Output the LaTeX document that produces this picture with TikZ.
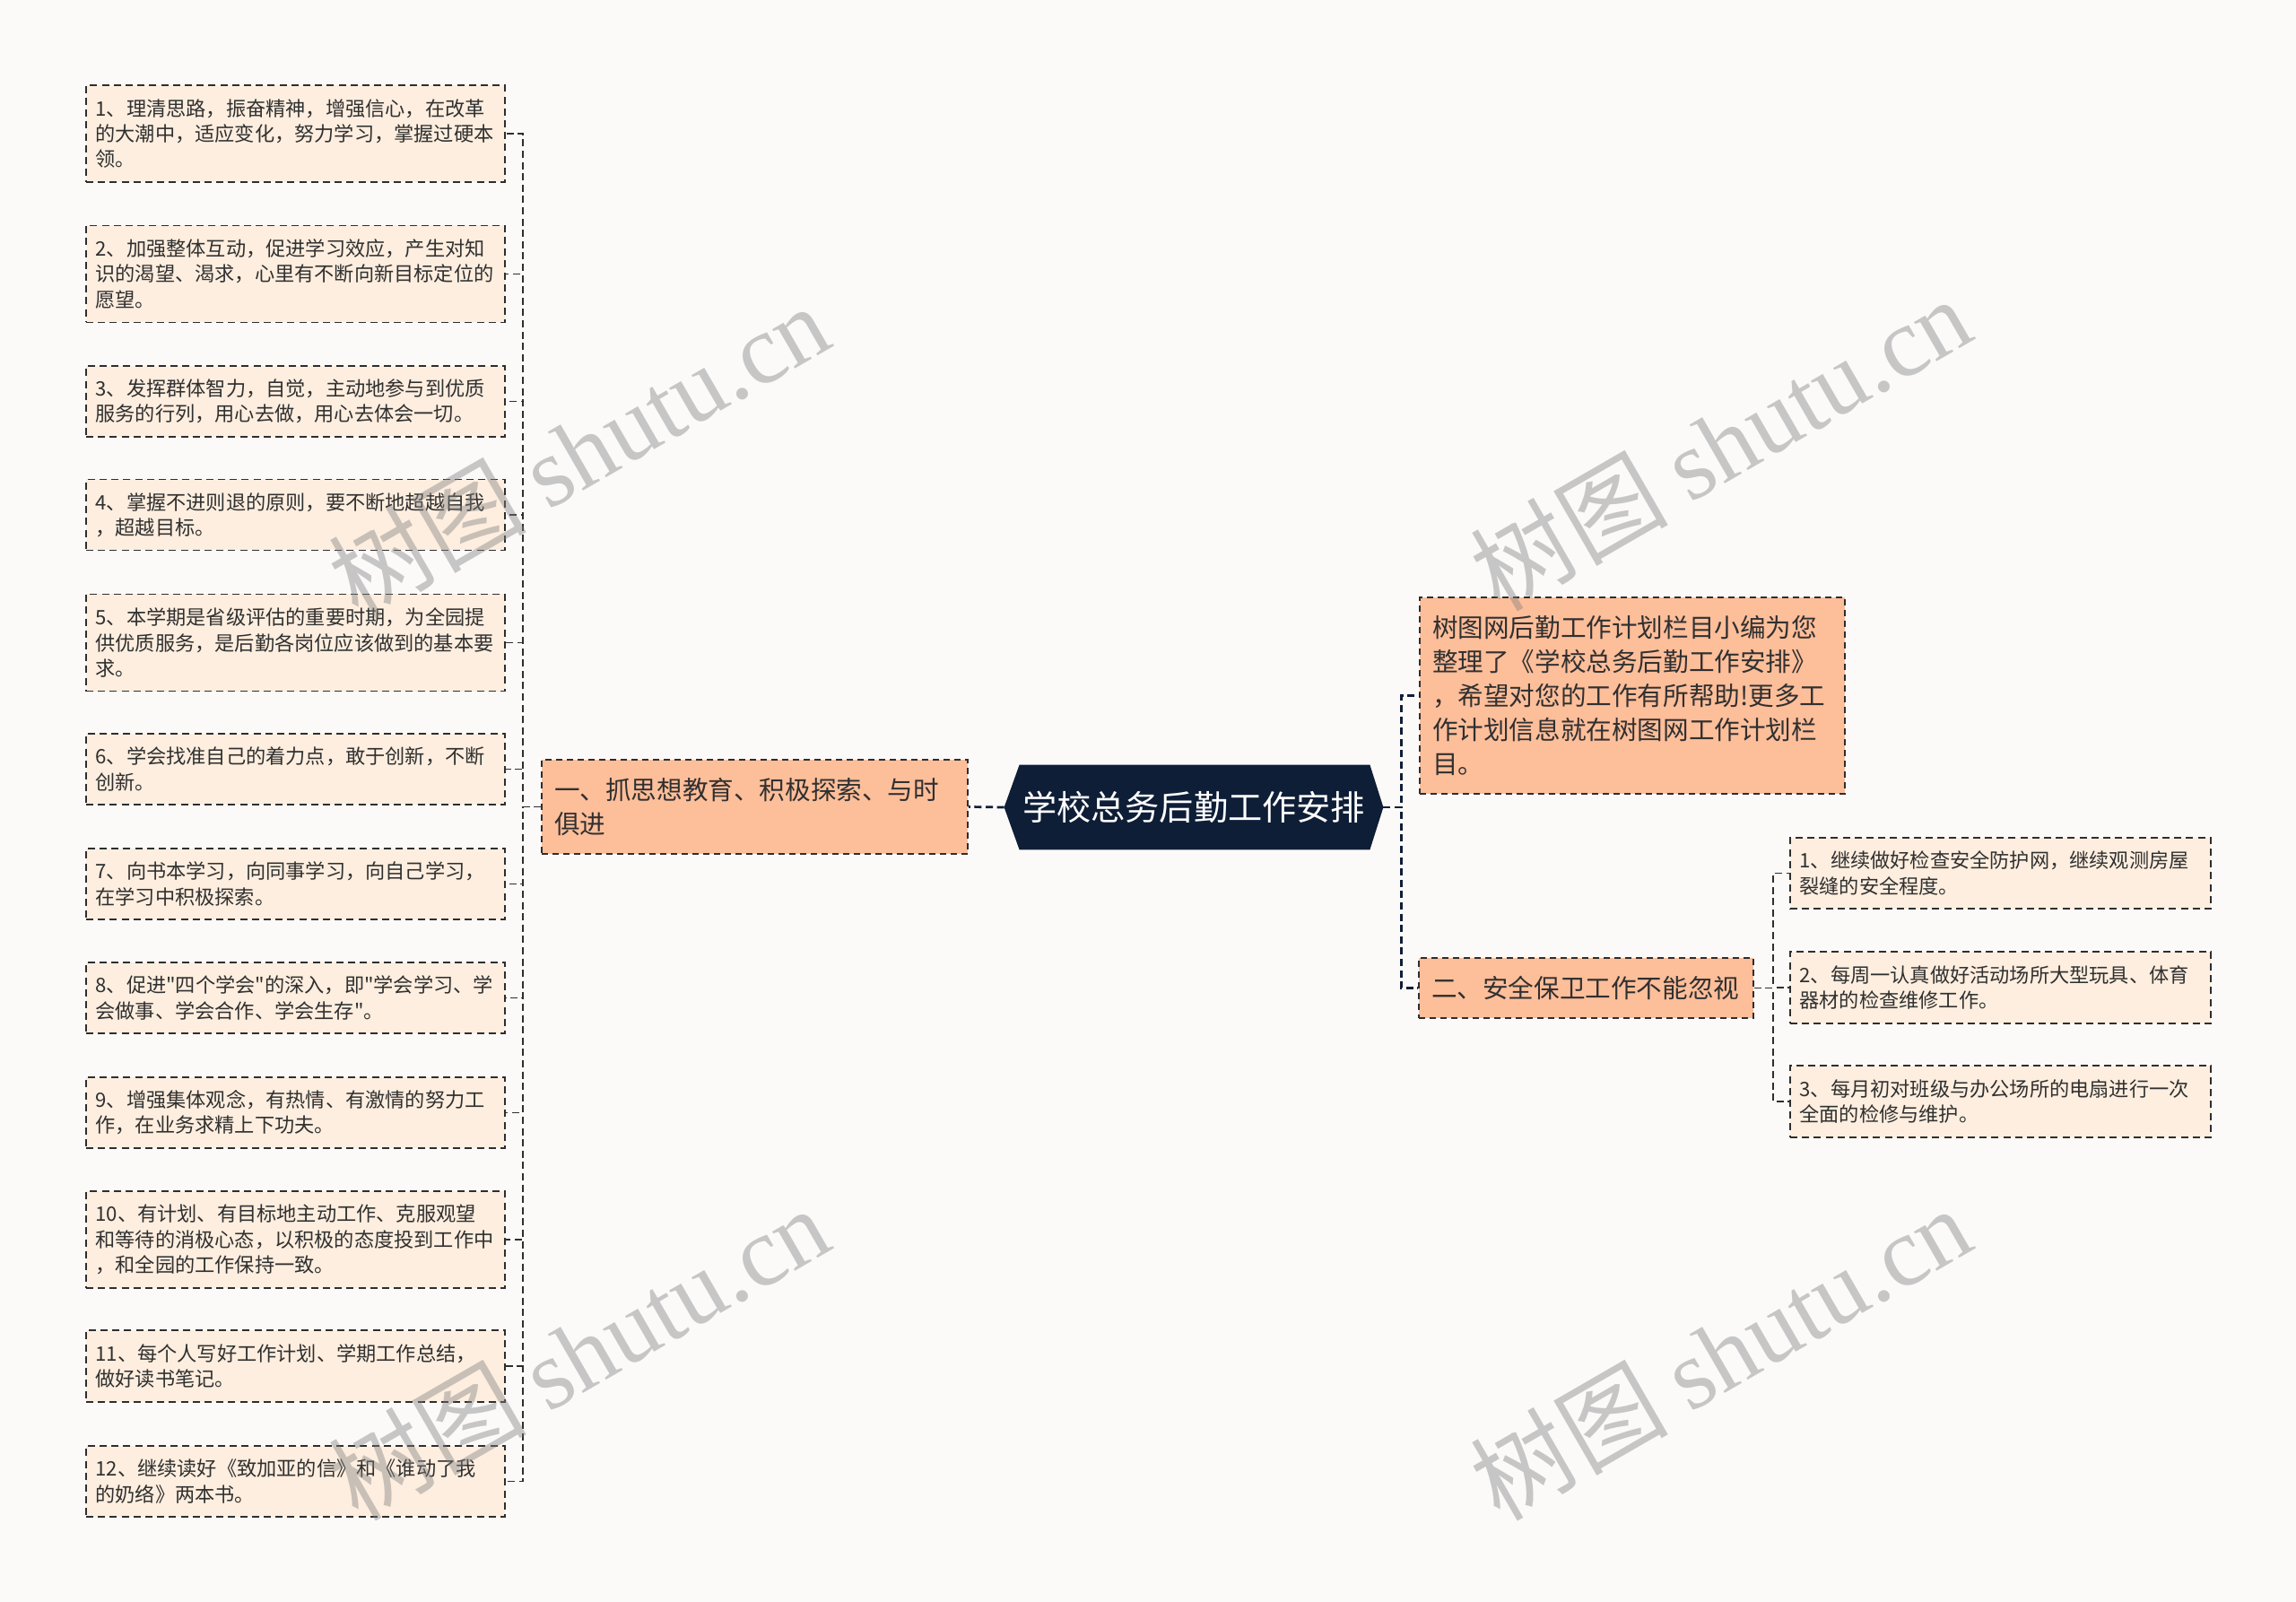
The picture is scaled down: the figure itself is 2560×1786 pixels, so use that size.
\documentclass[tikz,border=0pt]{standalone}
\usepackage{fontspec}
\setmainfont{Noto Sans CJK SC}[Ligatures=TeXOff]
\newfontfamily\wmfont{Liberation Serif}
\usetikzlibrary{backgrounds}
\definecolor{bgc}{HTML}{FCFAF9}
\definecolor{leafc}{HTML}{FDEEDF}
\definecolor{branchc}{HTML}{FDBE9A}
\definecolor{navy}{HTML}{0F1E37}
\definecolor{linec}{HTML}{2E2E2E}
\definecolor{txtc}{HTML}{303030}
\begin{document}
\begin{tikzpicture}[x=0.5pt,y=-0.5pt,
  leaf/.style={draw=linec, line width=0.9pt, dash pattern=on 4pt off 2.6pt, fill=leafc, text=txtc,
    minimum width=233.5pt, text width=223pt, inner xsep=5.25pt, inner ysep=0pt, align=left,
    font=\fontsize{11.1pt}{14.15pt}\selectfont},
  rleaf/.style={leaf, minimum width=234.5pt, text width=224pt},
  branch/.style={draw=linec, line width=0.8pt, dash pattern=on 3.5pt off 2.5pt, fill=branchc, text=txtc,
    inner xsep=7pt, inner ysep=0pt, align=left, font=\fontsize{14.3pt}{19pt}\selectfont},
  root/.style={text=white, minimum width=211pt, minimum height=47pt, inner sep=0pt,
    font=\fontsize{19.1pt}{23pt}\selectfont},
  lone/.style={draw=navy, line width=1.35pt, dash pattern=on 4pt off 2.3pt},
  ltwo/.style={draw=linec, line width=0.9pt, dash pattern=on 4pt off 2.3pt},
  wm/.style={text=gray, opacity=0.42, inner sep=0pt, font=\fontsize{55pt}{60pt}\selectfont}
]
\useasboundingbox (0,0) rectangle (2560,1786);

% root
\node[root] (center) at (1331,900) {学校总务后勤工作安排};

% level one
\node[branch, minimum width=237.5pt, text width=223.5pt, minimum height=52.5pt] (b1) at (841.5,899.5)
  {一、抓思想教育、积极探索、与时\\俱进};
\node[branch, minimum width=237pt, text width=223pt, minimum height=109.5pt] (info) at (1820,775.5)
  {树图网后勤工作计划栏目小编为您\\整理了《学校总务后勤工作安排》\\，希望对您的工作有所帮助!更多工\\作计划信息就在树图网工作计划栏\\目。};
\node[branch, minimum width=186.5pt, text width=172.5pt, minimum height=33.5pt] (b2) at (1768.5,1101.5)
  {二、安全保卫工作不能忽视};

% left leaves
\node[leaf, minimum height=54pt] (L1) at (329.5,149) {1、理清思路，振奋精神，增强信心，在改革\\的大潮中，适应变化，努力学习，掌握过硬本\\领。};
\node[leaf, minimum height=54pt] (L2) at (329.5,305.5) {2、加强整体互动，促进学习效应，产生对知\\识的渴望、渴求，心里有不断向新目标定位的\\愿望。};
\node[leaf, minimum height=39.5pt] (L3) at (329.5,447.5) {3、发挥群体智力，自觉，主动地参与到优质\\服务的行列，用心去做，用心去体会一切。};
\node[leaf, minimum height=39.5pt] (L4) at (329.5,574) {4、掌握不进则退的原则，要不断地超越自我\\，超越目标。};
\node[leaf, minimum height=54pt] (L5) at (329.5,716.5) {5、本学期是省级评估的重要时期，为全园提\\供优质服务，是后勤各岗位应该做到的基本要\\求。};
\node[leaf, minimum height=39.5pt] (L6) at (329.5,857.5) {6、学会找准自己的着力点，敢于创新，不断\\创新。};
\node[leaf, minimum height=39.5pt] (L7) at (329.5,985.5) {7、向书本学习，向同事学习，向自己学习，\\在学习中积极探索。};
\node[leaf, minimum height=39.5pt] (L8) at (329.5,1112.5) {8、促进"四个学会"的深入，即"学会学习、学\\会做事、学会合作、学会生存"。};
\node[leaf, minimum height=39.5pt] (L9) at (329.5,1240.5) {9、增强集体观念，有热情、有激情的努力工\\作，在业务求精上下功夫。};
\node[leaf, minimum height=54pt] (L10) at (329.5,1382) {10、有计划、有目标地主动工作、克服观望\\和等待的消极心态，以积极的态度投到工作中\\，和全园的工作保持一致。};
\node[leaf, minimum height=40pt] (L11) at (329.5,1523) {11、每个人写好工作计划、学期工作总结，\\做好读书笔记。};
\node[leaf, minimum height=39.5pt] (L12) at (329.5,1651.5) {12、继续读好《致加亚的信》和《谁动了我\\的奶络》两本书。};

% right leaves
\node[rleaf, minimum height=39.5pt] (R1) at (2230.5,973.5) {1、继续做好检查安全防护网，继续观测房屋\\裂缝的安全程度。};
\node[rleaf, minimum height=40pt] (R2) at (2230.5,1101) {2、每周一认真做好活动场所大型玩具、体育\\器材的检查维修工作。};
\node[rleaf, minimum height=40pt] (R3) at (2230.5,1228) {3、每月初对班级与办公场所的电扇进行一次\\全面的检修与维护。};

% connectors
\draw[lone] (center.west) -- (b1.east);
\draw[lone] (center.east) -- ++(10pt,0) |- (info.west);
\draw[lone] (center.east) -- ++(10pt,0) |- (b2.west);
\foreach \n in {1,...,12} {\draw[ltwo] (b1.west) -- ++(-10pt,0) |- (L\n.east);}
\foreach \n in {1,2,3} {\draw[ltwo] (b2.east) -- ++(10.5pt,0) |- (R\n.west);}

\begin{pgfonlayer}{background}
\fill[bgc] (0,0) rectangle (2560,1786);
\fill[navy] (center.west) -- ([xshift=8.5pt]center.north west) -- ([xshift=-7.5pt]center.north east)
  -- (center.east) -- ([xshift=-7.5pt]center.south east) -- ([xshift=8.5pt]center.south west) -- cycle;
\end{pgfonlayer}

% watermarks
\node[wm, rotate=30] (wm1) at (645,502) {树图 {\wmfont shutu.cn}};
\node[wm, rotate=30] (wm2) at (1918,494) {树图 {\wmfont shutu.cn}};
\node[wm, rotate=30] (wm3) at (645,1508) {树图 {\wmfont shutu.cn}};
\node[wm, rotate=30] (wm4) at (1918,1508) {树图 {\wmfont shutu.cn}};
\end{tikzpicture}
\end{document}
